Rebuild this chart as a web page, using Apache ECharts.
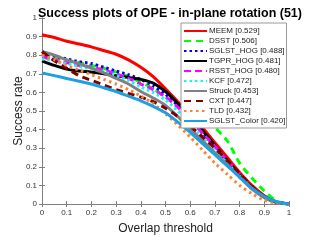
<!DOCTYPE html>
<html><head><meta charset="utf-8">
<script src="https://cdn.jsdelivr.net/npm/echarts@6/dist/echarts.min.js"></script>
<style>html,body{margin:0;padding:0;background:#fff}#c{width:320px;height:240px}</style>
</head><body><div id="c"></div>
<script>
var thresholds = [0,0.05,0.1,0.15,0.2,0.25,0.3,0.35,0.4,0.45,0.5,0.55,0.6,0.65,0.7,0.75,0.8,0.85,0.9,0.95,1];
var axisTicks = [0,0.1,0.2,0.3,0.4,0.5,0.6,0.7,0.8,0.9,1];
var names = ["MEEM [0.529]","DSST [0.506]","SGLST_HOG [0.488]","TGPR_HOG [0.481]","RSST_HOG [0.480]","KCF [0.472]","Struck [0.453]","CXT [0.447]","TLD [0.432]","SGLST_Color [0.420]"];
var meem = [0.91,0.895,0.875,0.86,0.845,0.825,0.805,0.775,0.735,0.685,0.62,0.55,0.48,0.41,0.33,0.25,0.17,0.10,0.045,0.01,0];
var dsst = [0.80,0.79,0.775,0.76,0.745,0.73,0.71,0.685,0.655,0.62,0.575,0.53,0.50,0.46,0.41,0.34,0.22,0.14,0.07,0.015,0];
var sglstHog = [0.81,0.795,0.78,0.765,0.755,0.735,0.715,0.695,0.67,0.635,0.59,0.53,0.46,0.385,0.305,0.225,0.145,0.085,0.035,0.008,0];
var tgpr = [0.77,0.745,0.725,0.715,0.71,0.70,0.69,0.68,0.67,0.65,0.605,0.54,0.465,0.395,0.315,0.235,0.155,0.09,0.04,0.01,0];
var rsst = [0.79,0.775,0.76,0.745,0.735,0.72,0.70,0.675,0.645,0.615,0.575,0.52,0.45,0.38,0.31,0.235,0.16,0.09,0.035,0.008,0];
var kcf = [0.78,0.77,0.755,0.74,0.725,0.71,0.69,0.665,0.63,0.60,0.56,0.50,0.43,0.36,0.29,0.22,0.15,0.085,0.035,0.008,0];
var struck = [0.82,0.80,0.775,0.755,0.73,0.705,0.675,0.645,0.605,0.57,0.53,0.47,0.405,0.34,0.275,0.21,0.145,0.08,0.035,0.008,0];
var cxt = [0.82,0.77,0.73,0.69,0.665,0.64,0.615,0.595,0.575,0.55,0.515,0.47,0.42,0.36,0.30,0.235,0.165,0.095,0.04,0.01,0];
var tld = [0.80,0.775,0.745,0.72,0.695,0.67,0.645,0.615,0.58,0.54,0.485,0.425,0.36,0.29,0.22,0.16,0.10,0.055,0.02,0.005,0];
var sglstColor = [0.705,0.69,0.675,0.66,0.645,0.625,0.605,0.58,0.555,0.525,0.49,0.44,0.385,0.325,0.265,0.205,0.145,0.085,0.04,0.012,0];

var values = [meem,dsst,sglstHog,tgpr,rsst,kcf,struck,cxt,tld,sglstColor];
var colors = ['#ff0000','#00ff00','#0000ff','#000000','#ff00ff','#00ffff','#808080','#800000','#ff8033','#1e9fe0'];
var dashes = ['solid',[7,5],[2.5,3],'solid',[7,4],[2.5,3],'solid',[7,5],[2.5,3.5],'solid'];

var font = '"Liberation Sans", Arial, Helvetica, sans-serif';
var series = values.map(function(v,i){
  return {
    name: names[i], type:'line', symbol:'none', smooth:0.25,
    data: thresholds.map(function(t,j){return [t,v[j]];}),
    lineStyle:{color:colors[i], width:3, type:dashes[i], cap:'butt'},
    itemStyle:{color:colors[i]},
    emphasis:{disabled:true}
  };
});

function axisCommon(show){
  return {
    type:'value', min:0, max:1, interval:0.1,
    axisLine:{show:true, lineStyle:{color:'#7f7f7f', width:1}},
    axisTick:{show:true, inside:true, length:3, lineStyle:{color:'#7f7f7f'}},
    splitLine:{show:false},
    axisLabel:{show:show, fontSize:8, color:'#333', fontFamily:font, margin:5,
      formatter:function(v){ return axisTicks.indexOf(Math.round(v*10)/10)>=0 ? String(Math.round(v*10)/10) : ''; }}
  };
}
var xb = axisCommon(true); xb.position='bottom'; xb.name='Overlap threshold'; xb.nameLocation='middle'; xb.nameGap=19;
xb.nameMoveOverlap=false;
xb.nameTextStyle={fontSize:12, color:'#222', fontFamily:font};
var xt = axisCommon(false); xt.position='top';
var yl = axisCommon(true); yl.position='left'; yl.name='Success rate'; yl.nameLocation='middle'; yl.nameGap=17;
yl.nameMoveOverlap=false;
yl.nameTextStyle={fontSize:12, color:'#222', fontFamily:font};
var yr = axisCommon(false); yr.position='right';

var chart = echarts.init(document.getElementById('c'), null, {renderer:'canvas'});
chart.setOption({
  animation:false,
  title:{text:'Success plots of OPE - in-plane rotation (51)', left:165, textAlign:'center', top:2,
    textStyle:{fontSize:12.5, fontWeight:'bold', color:'#000', fontFamily:font}},
  grid:{left:42, right:31, top:18, bottom:29, containLabel:false},
  xAxis:[xb, xt],
  yAxis:[yl, yr],
  legend:{orient:'vertical', left:181, top:23, itemWidth:23, itemHeight:8, itemGap:2,
    padding:[4,1,3,2], backgroundColor:'#fff', borderColor:'#999', borderWidth:1, borderRadius:0,
    itemStyle:{opacity:0, borderWidth:0},
    textStyle:{fontSize:8, color:'#222', fontFamily:font, padding:[0,0,0,-3]},
    data:names},
  series: series
});
</script></body></html>
